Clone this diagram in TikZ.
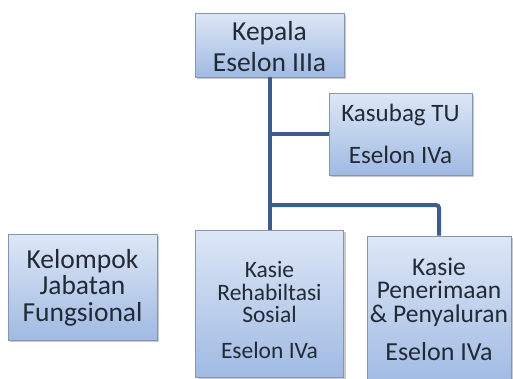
\documentclass[tikz,border=0pt]{standalone}
\usepackage{fontspec}
\setmainfont{Carlito}
\usetikzlibrary{shadows}
\definecolor{boxtop}{HTML}{DDE7F6}
\definecolor{boxbot}{HTML}{A0BAE3}
\definecolor{boxline}{HTML}{8595AD}
\definecolor{conn}{HTML}{3D5C8A}
\definecolor{txtc}{HTML}{222A35}
\tikzset{
  orgbox/.style={draw=boxline, line width=0.8pt, top color=boxtop, bottom color=boxbot,
    rectangle, inner sep=0pt, drop shadow={shadow xshift=2pt, shadow yshift=-2pt, opacity=0.35, fill=black!60}},
  conline/.style={draw=conn, line width=4pt},
  lbl/.style={text=txtc, inner sep=0pt, anchor=center, align=center},
  fs/.style 2 args={lbl, font=\fontsize{#1}{#2}\selectfont}
}
\begin{document}
\begin{tikzpicture}[x=1pt,y=-1pt]
\useasboundingbox (0,0) rectangle (513,378);
% boxes
\node[orgbox, minimum width=149pt, minimum height=64pt] (kepala) at (269.5,45) {};
\node[orgbox, minimum width=143pt, minimum height=82pt] (kasubag) at (400.5,134) {};
\node[orgbox, minimum width=149pt, minimum height=106pt] (kelompok) at (82.5,287) {};
\node[orgbox, minimum width=148pt, minimum height=147pt] (rehab) at (269.5,303.5) {};
\node[orgbox, minimum width=144pt, minimum height=150pt] (pener) at (439,311) {};
% connectors
\coordinate (j) at (269.5,205);
\draw[conline] (kepala.south) -- (rehab.north);
\draw[conline] (kepala.south |- kasubag.west) -- (kasubag.west);
\draw[conline, rounded corners=3pt] (j) -| (pener.north);
% texts
\node[fs={27.5}{31}] (t1) at (269.5,47) {Kepala\\Eselon IIIa};
\node[fs={25}{42}] (t3) at (400.5,134) {Kasubag TU\\Eselon IVa};
\node[fs={27.5}{26.5}] (t5) at (82.5,287.5) {Kelompok\\Jabatan\\Fungsional};
\node[fs={23.5}{22.5}] (t8) at (269.5,292) {Kasie\\Rehabiltasi\\Sosial};
\node[fs={23.5}{24}] (t11) at (269.5,350) {Eselon IVa};
\node[fs={25.5}{23.5}] (t12) at (439,292) {Kasie\\Penerimaan\\\& Penyaluran};
\node[fs={26}{26}] (t15) at (439,352) {Eselon IVa};
\end{tikzpicture}
\end{document}
